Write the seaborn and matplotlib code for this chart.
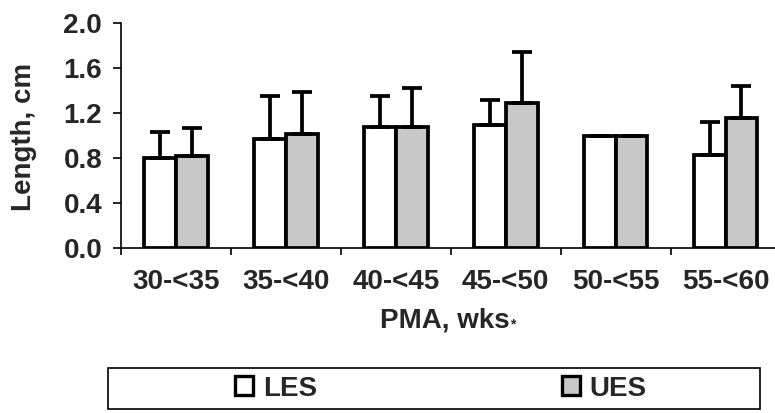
import pandas as pd
import seaborn as sns
import matplotlib.pyplot as plt
from matplotlib.patches import Patch, Rectangle

groups = ['30-<35', '35-<40', '40-<45', '45-<50', '50-<55', '55-<60']
les_mean = [0.80, 0.97, 1.08, 1.09, 1.00, 0.83]
les_sd = [0.23, 0.38, 0.27, 0.23, 0.00, 0.29]
ues_mean = [0.82, 1.01, 1.08, 1.29, 1.00, 1.16]
ues_sd = [0.25, 0.38, 0.34, 0.45, 0.00, 0.28]
colors = {'LES': 'white', 'UES': '#c8c8c8'}

df = pd.DataFrame({
    'PMA': groups * 2,
    'site': ['LES'] * len(groups) + ['UES'] * len(groups),
    'length': les_mean + ues_mean,
})

sns.set_style('white')
plt.rcParams['font.family'] = ['Liberation Sans', 'DejaVu Sans']
plt.rcParams['font.weight'] = 'bold'

FS = 20

fig = plt.figure(figsize=(7.75, 4.13), dpi=100)
ax = fig.add_axes([121 / 775, 1 - 248 / 413, 1 - 121 / 775, 225 / 413])

sns.barplot(data=df, x='PMA', y='length', hue='site', palette=colors,
            order=groups, hue_order=['LES', 'UES'], width=0.58,
            edgecolor='black', linewidth=2.7, errorbar=None, legend=False, ax=ax)

# upward-only error bars on top of each bar
for cont, sd in zip(ax.containers, [les_sd, ues_sd]):
    xs = [b.get_x() + b.get_width() / 2 for b in cont]
    hs = [b.get_height() for b in cont]
    ax.errorbar(xs, hs, yerr=[[0] * len(sd), sd], fmt='none', ecolor='black',
                elinewidth=2.7, capsize=7.2, capthick=2.7, zorder=3)

ax.set_xlim(-0.5, 5.45)
ax.set_ylim(0, 2.0)
ax.set_yticks([0.0, 0.4, 0.8, 1.2, 1.6, 2.0])
ax.set_yticklabels(['0.0', '0.4', '0.8', '1.2', '1.6', '2.0'])
ax.set_xticks(range(len(groups)))
ax.set_xticklabels(groups)
ax.set_xticks([i - 0.5 for i in range(len(groups))], minor=True)
ax.tick_params(axis='x', which='major', length=0, pad=15, labelsize=FS)
ax.tick_params(axis='x', which='minor', direction='out', length=5, width=1.2,
               color='black', bottom=True)
ax.tick_params(axis='y', direction='out', length=5.5, width=1.2, color='black',
               left=True, pad=8, labelsize=FS)
for lab in ax.get_xticklabels() + ax.get_yticklabels():
    lab.set_fontweight('bold')

sns.despine(ax=ax)
for s in ['left', 'bottom']:
    ax.spines[s].set_color('black')
    ax.spines[s].set_linewidth(1.2)

ax.set_xlabel('')
ax.set_ylabel('')
fig.text(24 / 775, 1 - 137 / 413, 'Length, cm', rotation=90, ha='center',
         va='center', fontsize=FS, fontweight='bold')
xl = fig.text(445 / 775, 1 - 320 / 413, 'PMA, wks', ha='center',
              va='center', fontsize=FS, fontweight='bold')
ax.annotate('*', xy=(1.0, 0.05), xycoords=xl, ha='left', va='bottom',
            fontsize=10, fontweight='bold')

# legend in a box below the chart
fig.patches.append(Rectangle((108 / 775, 1 - 409 / 413), 652 / 775, 41 / 413,
                             transform=fig.transFigure, fill=False,
                             edgecolor='black', linewidth=1.2))
handles = [Patch(facecolor=colors[k], edgecolor='black', linewidth=2.4, label=k)
           for k in ['LES', 'UES']]
fig.legend(handles=handles, loc='center', bbox_to_anchor=(441 / 775, 1 - 388.5 / 413),
           ncol=2, frameon=False, handlelength=0.65, handleheight=0.65,
           handletextpad=0.35, columnspacing=8.8, prop={'weight': 'bold', 'size': FS})

fig.savefig('out.png', dpi=100)
